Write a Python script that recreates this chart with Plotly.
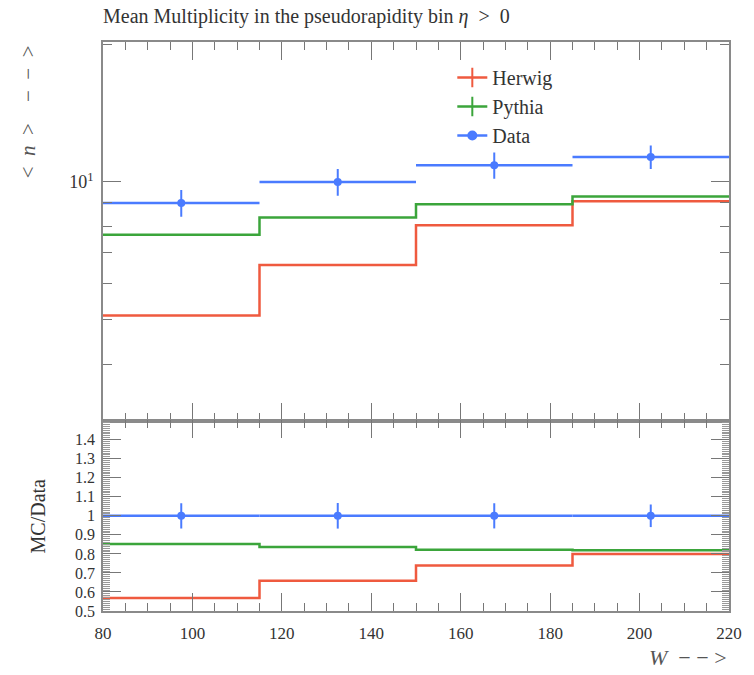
import plotly.graph_objects as go

# ---- data ----
bin_edges = [80, 115, 150, 185, 220]
bin_centers = [97.5, 132.5, 167.5, 202.5]
bin_halfwidth = [17.5, 17.5, 17.5, 17.5]
data_vals = [9.0, 10.0, 10.88, 11.34]
data_errs = [0.60, 0.67, 0.72, 0.67]
herwig_vals = [5.11, 6.59, 8.04, 9.07]
pythia_vals = [7.67, 8.36, 8.94, 9.29]
ratio_ticks = [0.5, 0.6, 0.7, 0.8, 0.9, 1.0, 1.1, 1.2, 1.3, 1.4]
ratio_ticktext = ["0.5", "0.6", "0.7", "0.8", "0.9", "1", "1.1", "1.2", "1.3", "1.4"]
x_ticks = [80, 100, 120, 140, 160, 180, 200, 220]

RED = "#EF5A3F"
GREEN = "#3BA53B"
BLUE = "#4A7BFF"
FRAME = "#8a8a8a"
FONT = "Liberation Serif"
NB = "\u00a0"


def steps(vals):
    return list(vals) + [vals[-1]]


herwig_ratio = [h / d for h, d in zip(herwig_vals, data_vals)]
pythia_ratio = [p / d for p, d in zip(pythia_vals, data_vals)]
data_ratio = [1.0 for _ in data_vals]
data_ratio_err = [e / d for e, d in zip(data_errs, data_vals)]

fig = go.Figure()

# top panel
fig.add_trace(go.Scatter(x=bin_edges, y=steps(herwig_vals), mode="lines", line=dict(color=RED, width=2.5, shape="hv"),
                         showlegend=False, xaxis="x", yaxis="y", hoverinfo="skip"))
fig.add_trace(go.Scatter(x=bin_edges, y=steps(pythia_vals), mode="lines", line=dict(color=GREEN, width=2.5, shape="hv"),
                         showlegend=False, xaxis="x", yaxis="y", hoverinfo="skip"))
fig.add_trace(go.Scatter(x=bin_centers, y=data_vals, mode="markers",
                         marker=dict(color=BLUE, size=8),
                         error_x=dict(type="data", array=bin_halfwidth, color=BLUE, thickness=2.5, width=0),
                         error_y=dict(type="data", array=data_errs, color=BLUE, thickness=2, width=0),
                         showlegend=False, xaxis="x", yaxis="y"))

# ratio panel
fig.add_trace(go.Scatter(x=bin_edges, y=steps(herwig_ratio), mode="lines", line=dict(color=RED, width=2.5, shape="hv"),
                         showlegend=False, xaxis="x2", yaxis="y2", hoverinfo="skip"))
fig.add_trace(go.Scatter(x=bin_edges, y=steps(pythia_ratio), mode="lines", line=dict(color=GREEN, width=2.5, shape="hv"),
                         showlegend=False, xaxis="x2", yaxis="y2", hoverinfo="skip"))
fig.add_trace(go.Scatter(x=bin_centers, y=data_ratio, mode="markers",
                         marker=dict(color=BLUE, size=8),
                         error_x=dict(type="data", array=bin_halfwidth, color=BLUE, thickness=2.5, width=0),
                         error_y=dict(type="data", array=data_ratio_err, color=BLUE, thickness=2, width=0),
                         showlegend=False, xaxis="x2", yaxis="y2"))

# legend entries
for name, col, sym, size in [("Herwig", RED, "line-ns", 14), ("Pythia", GREEN, "line-ns", 14), ("Data", BLUE, "circle", 8)]:
    fig.add_trace(go.Scatter(x=[None], y=[None], mode="lines+markers", name=name,
                             line=dict(color=col, width=2.5),
                             marker=dict(symbol=sym, size=size, color=col, line=dict(color=col, width=2)),
                             xaxis="x", yaxis="y"))

split = 0.3345
common_x = dict(range=[80, 220], showline=True, linecolor=FRAME, linewidth=1.5, mirror="allticks",
                ticks="inside", ticklen=18, tickwidth=1.2, tickcolor="#777", showgrid=False, zeroline=False,
                tickvals=x_ticks,
                minor=dict(dtick=5, ticklen=8, tickwidth=1.2, tickcolor="#777", ticks="inside", showgrid=False))

fig.update_layout(
    width=754, height=675,
    margin=dict(l=103, r=19, t=42, b=64),
    paper_bgcolor="white", plot_bgcolor="white",
    font=dict(family=FONT, size=16, color="#333"),
    xaxis=dict(**common_x, domain=[0, 1], anchor="y", showticklabels=False, matches="x2"),
    xaxis2=dict(**common_x, domain=[0, 1], anchor="y2", showticklabels=True, ticklabelstandoff=6,
                tickfont=dict(size=17, color="#333")),
    yaxis=dict(type="log", domain=[split, 1], range=[0.4786, 1.3057], anchor="x",
               showline=True, linecolor=FRAME, linewidth=1.5, mirror="allticks",
               ticks="inside", ticklen=18, tickwidth=1.2, tickcolor="#777",
               tickvals=[10], ticktext=["10<sup>1</sup>"], showgrid=False, zeroline=False,
               tickfont=dict(size=18, color="#333"), ticklabelstandoff=4,
               minor=dict(tickvals=[3, 4, 5, 6, 7, 8, 9, 20], ticklen=9, tickwidth=1.2, tickcolor="#777",
                          ticks="inside", showgrid=False)),
    yaxis2=dict(domain=[0, split], range=[0.5, 1.5], anchor="x2",
                showline=True, linecolor=FRAME, linewidth=1.5, mirror="allticks",
                ticks="inside", ticklen=18, tickwidth=1.2, tickcolor="#777",
                tickvals=ratio_ticks, ticktext=ratio_ticktext, showgrid=False, zeroline=False,
                tickfont=dict(size=16, color="#333"), ticklabelstandoff=3,
                minor=dict(dtick=0.01, ticklen=7, tickwidth=1, tickcolor="#999", ticks="inside", showgrid=False)),
    legend=dict(x=0.558, y=0.972, xanchor="left", yanchor="top", bgcolor="rgba(0,0,0,0)",
                font=dict(family=FONT, size=20, color="#333"), itemwidth=30, tracegroupgap=0),
    showlegend=True,
)

fig.add_annotation(text="Mean Multiplicity in the pseudorapidity bin <i>η</i>" + NB * 2 + ">" + NB * 2 + "0",
                   xref="paper", yref="paper",
                   x=-0.003, y=1 + 25 / 569, xanchor="left", yanchor="middle", showarrow=False,
                   font=dict(family=FONT, size=20, color="#333"))
fig.add_annotation(text="<" + NB * 2 + "<i>n</i>" + NB * 2 + ">" + NB * 4 + "−" + NB * 2 + "−" + NB * 2 + ">",
                   xref="paper", yref="paper", x=(27 - 103) / 632, y=1 - 1 / 569,
                   xanchor="center", yanchor="top", textangle=-90, showarrow=False,
                   font=dict(family=FONT, size=21, color="#555"))
fig.add_annotation(text="MC/Data", xref="paper", yref="paper", x=(37 - 103) / 632, y=split / 2,
                   xanchor="center", yanchor="middle", textangle=-90, showarrow=False,
                   font=dict(family=FONT, size=20, color="#333"))
fig.add_annotation(text="<i>W</i>" + NB * 2 + "−" + NB + "−" + NB + ">", xref="paper", yref="paper",
                   x=1, y=-(657 - 611) / 569,
                   xanchor="right", yanchor="middle", showarrow=False,
                   font=dict(family=FONT, size=22, color="#555"))

fig.write_html("out.html")
